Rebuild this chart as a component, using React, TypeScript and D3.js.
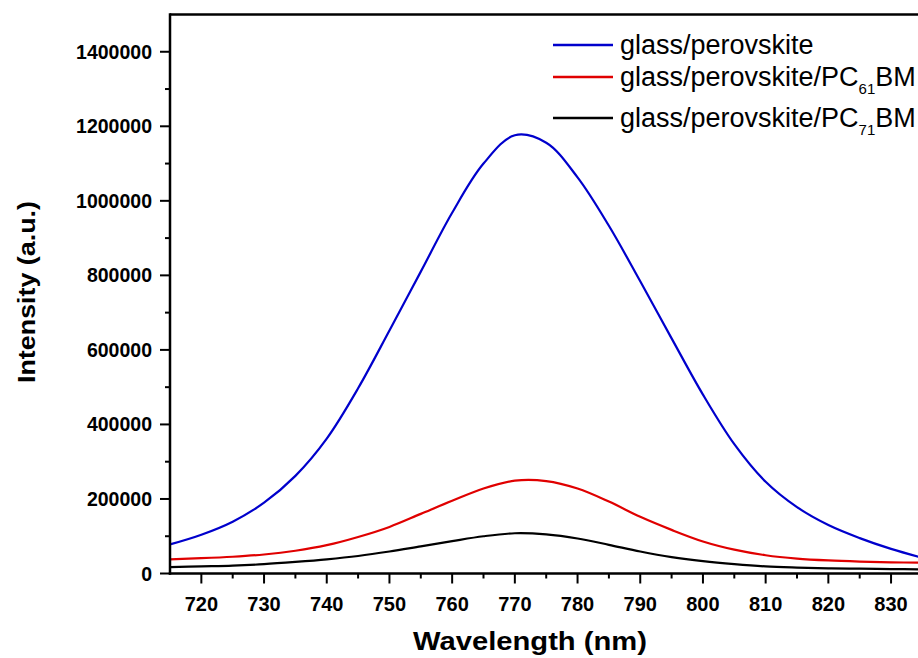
import React from "react";
import * as d3 from "d3";

// Photoluminescence spectra sampled every 5 nm
const wavelengths = [
  715, 720, 725, 730, 735, 740, 745, 750, 755, 760, 765, 770, 775, 780, 785,
  790, 795, 800, 805, 810, 815, 820, 825, 830, 835,
];
const glassPerovskite = [
  78000, 104000, 139000, 190000, 262000, 362000, 497000, 652000, 810000,
  968000, 1100000, 1176000, 1156000, 1063000, 933000, 784000, 631000, 480000,
  347000, 246000, 178000, 130000, 95000, 66000, 42000,
];
const glassPerovskitePC61BM = [
  38000, 41000, 45000, 51000, 61000, 76000, 98000, 125000, 160000, 195000,
  228000, 249000, 248000, 228000, 193000, 152000, 117000, 86000, 64000, 49000,
  40000, 35000, 32000, 30000, 29000,
];
const glassPerovskitePC71BM = [
  17000, 19000, 21000, 25000, 31000, 38000, 47000, 59000, 73000, 87000,
  100000, 108000, 105000, 94000, 77000, 59000, 44000, 33000, 25000, 19000,
  16000, 14000, 13000, 12000, 11000,
];

const xTickValues = [720, 730, 740, 750, 760, 770, 780, 790, 800, 810, 820, 830];
const xMinorTicks = [725, 735, 745, 755, 765, 775, 785, 795, 805, 815, 825, 835];
const yTickValues = [0, 200000, 400000, 600000, 800000, 1000000, 1200000, 1400000];
const yMinorTicks = [100000, 300000, 500000, 700000, 900000, 1100000, 1300000];

const legendBase = ["glass/perovskite", "glass/perovskite/PC", "glass/perovskite/PC"];
const legendSub = ["", "61", "71"];
const legendTail = ["", "BM", "BM"];
const seriesColors = ["#0000cc", "#e00000", "#000000"];

const W = 918;
const H = 658;
const FONT = "'Liberation Sans', Arial, Helvetica, sans-serif";

export default function App() {
  const x = d3.scaleLinear().domain([715, 835]).range([170, 922.4]);
  const y = d3.scaleLinear().domain([0, 1500000]).range([573.5, 14.5]);

  const line = d3
    .line<number>()
    .x((_, i) => x(wavelengths[i]))
    .y((d) => y(d))
    .curve(d3.curveCatmullRom.alpha(0.5));

  const series = [glassPerovskite, glassPerovskitePC61BM, glassPerovskitePC71BM];
  const legendLineY = [45, 77, 118];

  const x0 = x(715);
  const y0 = y(0);
  const yTop = y(1500000);

  return (
    <svg
      width={W}
      height={H}
      viewBox={`0 0 ${W} ${H}`}
      style={{ position: "absolute", left: 0, top: 0, background: "#fff" }}
    >
      <rect x={0} y={0} width={W} height={H} fill="#fff" />

      {/* spectra */}
      <g fill="none" strokeWidth={2.2} strokeLinejoin="round">
        {series.map((s, i) => (
          <path key={i} d={line(s) ?? ""} stroke={seriesColors[i]} />
        ))}
      </g>

      {/* frame */}
      <g stroke="#000" strokeWidth={2.5} fill="none">
        <line x1={x0} x2={W} y1={yTop} y2={yTop} />
        <line x1={x0} x2={x0} y1={yTop - 1.2} y2={y0 + 1.2} />
        <line x1={x0 - 1.2} x2={W} y1={y0} y2={y0} />
      </g>

      {/* x axis ticks */}
      <g stroke="#000" strokeWidth={2}>
        {xTickValues.map((v) => (
          <line key={v} x1={x(v)} x2={x(v)} y1={y0} y2={y0 + 10} />
        ))}
        {xMinorTicks.map((v) => (
          <line key={v} x1={x(v)} x2={x(v)} y1={y0} y2={y0 + 5} />
        ))}
      </g>
      <g fontFamily={FONT} fontWeight="bold" fontSize={20} textAnchor="middle">
        {xTickValues.map((v) => (
          <text key={v} x={x(v)} y={611}>
            {v}
          </text>
        ))}
      </g>

      {/* y axis ticks */}
      <g stroke="#000" strokeWidth={2}>
        {yTickValues.map((v) => (
          <line key={v} x1={x0 - 10} x2={x0} y1={y(v)} y2={y(v)} />
        ))}
        {yMinorTicks.map((v) => (
          <line key={v} x1={x0 - 5} x2={x0} y1={y(v)} y2={y(v)} />
        ))}
      </g>
      <g fontFamily={FONT} fontWeight="bold" fontSize={19.5} textAnchor="end">
        {yTickValues.map((v) => (
          <text key={v} x={152} y={y(v) + 7}>
            {v}
          </text>
        ))}
      </g>

      {/* axis titles */}
      <text
        x={530}
        y={650}
        fontFamily={FONT}
        fontWeight="bold"
        fontSize={25}
        textAnchor="middle"
        textLength={234}
        lengthAdjust="spacingAndGlyphs"
      >
        Wavelength (nm)
      </text>
      <text
        transform="translate(35,292) rotate(-90)"
        fontFamily={FONT}
        fontWeight="bold"
        fontSize={24}
        textAnchor="middle"
        textLength={182}
        lengthAdjust="spacingAndGlyphs"
      >
        Intensity (a.u.)
      </text>

      {/* legend */}
      <g fontFamily={FONT} fontSize={27}>
        {legendBase.map((label, i) => (
          <g key={i}>
            <line
              x1={553}
              x2={613}
              y1={legendLineY[i]}
              y2={legendLineY[i]}
              stroke={seriesColors[i]}
              strokeWidth={2.5}
            />
            <text x={620} y={legendLineY[i] + 9}>
              {label}
              {legendSub[i] && (
                <tspan fontSize={15} dy={8}>
                  {legendSub[i]}
                </tspan>
              )}
              {legendTail[i] && <tspan dy={-8}>{legendTail[i]}</tspan>}
            </text>
          </g>
        ))}
      </g>
    </svg>
  );
}
